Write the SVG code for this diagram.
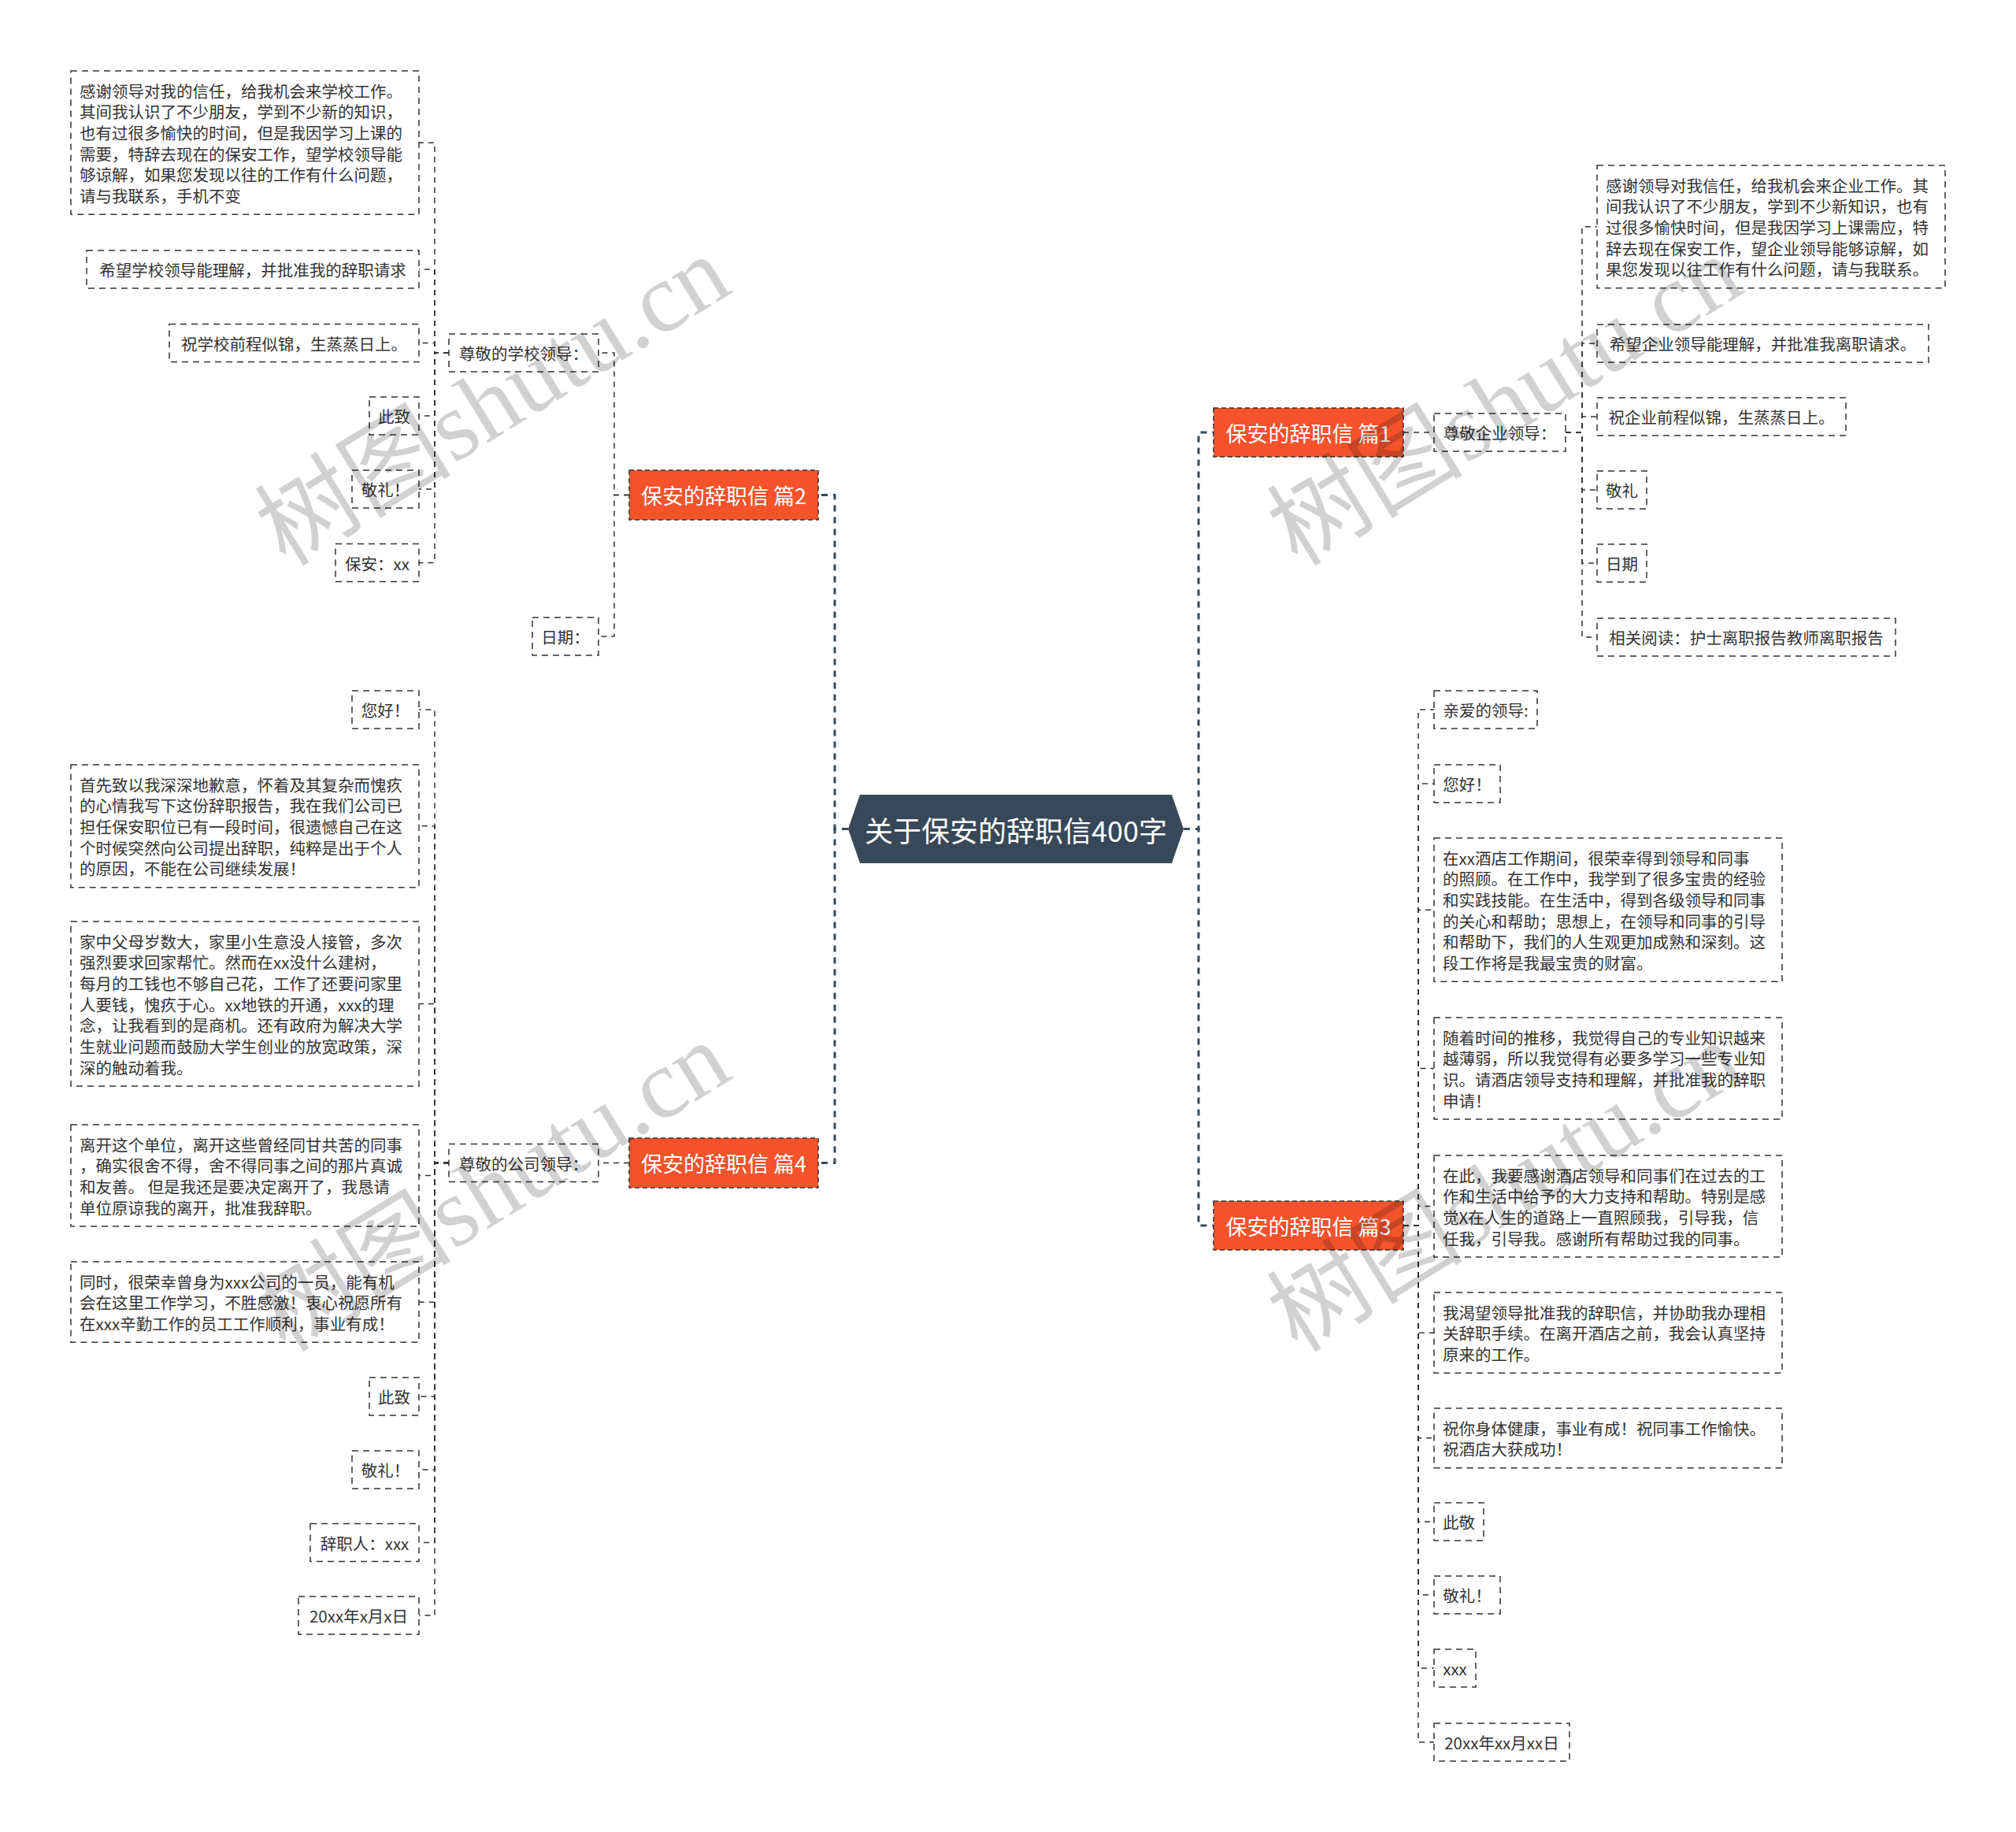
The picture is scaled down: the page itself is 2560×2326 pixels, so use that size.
<svg xmlns="http://www.w3.org/2000/svg" width="2560" height="2326" viewBox="0 0 2560 2326">
<style>
.bg{fill:#ffffff}
.box{fill:#ffffff;stroke:#333333;stroke-width:1.5;stroke-dasharray:8 6}
.t{font-family:"Noto Sans CJK SC","Microsoft YaHei",sans-serif;font-size:20.5px;fill:#333333}
.c{text-anchor:middle;dominant-baseline:central}
.l{dominant-baseline:central}
.branch{fill:#f4532c;stroke:#333333;stroke-width:1.5;stroke-dasharray:6 4}
.bt{font-family:"Noto Sans CJK SC","Microsoft YaHei",sans-serif;font-size:27px;fill:#ffffff;text-anchor:middle;dominant-baseline:central}
.root{fill:#374859}
.rt{font-family:"Noto Sans CJK SC","Microsoft YaHei",sans-serif;font-size:36px;fill:#ffffff;text-anchor:middle;dominant-baseline:central}
.link{fill:none;stroke:#333333;stroke-width:1.5;stroke-dasharray:7 6}
.trunk{fill:none;stroke:#37495a;stroke-width:3;stroke-dasharray:8 7}
.wm{font-family:"Liberation Serif","Noto Sans CJK SC",serif;font-size:125px;fill:#000000;fill-opacity:0.18;text-anchor:middle}
</style>
<rect class="bg" x="0" y="0" width="2560" height="2326"/>

<g id="connectors">
<path class="trunk" d="M1077,1052.5 H1060 V628.5 H1039"/>
<path class="trunk" d="M1077,1052.5 H1060 V1476.5 H1039"/>
<path class="trunk" d="M1503,1052.5 H1522 V549 H1541"/>
<path class="trunk" d="M1503,1052.5 H1522 V1556 H1541"/>

<path class="link" d="M799,628.5 H780 V448 H760"/>
<path class="link" d="M799,628.5 H780 V808 H760"/>

<path class="link" d="M570,448 H552 V181.2 H532"/>
<path class="link" d="M570,448 H552 V342 H532"/>
<path class="link" d="M570,448 H552 V435.5 H532"/>
<path class="link" d="M570,448 H552 V528 H532"/>
<path class="link" d="M570,448 H552 V621 H532"/>
<path class="link" d="M570,448 H552 V714.5 H532"/>

<path class="link" d="M799,1476.5 H760"/>
<path class="link" d="M570,1476.5 H552 V901 H532"/>
<path class="link" d="M570,1476.5 H552 V1048.8 H532"/>
<path class="link" d="M570,1476.5 H552 V1274.5 H532"/>
<path class="link" d="M570,1476.5 H552 V1492.5 H532"/>
<path class="link" d="M570,1476.5 H552 V1653.2 H532"/>
<path class="link" d="M570,1476.5 H552 V1773 H532"/>
<path class="link" d="M570,1476.5 H552 V1866 H532"/>
<path class="link" d="M570,1476.5 H552 V1958.5 H532"/>
<path class="link" d="M570,1476.5 H552 V2051 H532"/>

<path class="link" d="M1782,549 H1821"/>
<path class="link" d="M1988,549 H2009 V287.8 H2028"/>
<path class="link" d="M1988,549 H2009 V436 H2028"/>
<path class="link" d="M1988,549 H2009 V529 H2028"/>
<path class="link" d="M1988,549 H2009 V622 H2028"/>
<path class="link" d="M1988,549 H2009 V715 H2028"/>
<path class="link" d="M1988,549 H2009 V809 H2028"/>

<path class="link" d="M1782,1556 H1801 V901 H1821"/>
<path class="link" d="M1782,1556 H1801 V995 H1821"/>
<path class="link" d="M1782,1556 H1801 V1155.2 H1821"/>
<path class="link" d="M1782,1556 H1801 V1356.5 H1821"/>
<path class="link" d="M1782,1556 H1801 V1531.5 H1821"/>
<path class="link" d="M1782,1556 H1801 V1692.2 H1821"/>
<path class="link" d="M1782,1556 H1801 V1825.8 H1821"/>
<path class="link" d="M1782,1556 H1801 V1932 H1821"/>
<path class="link" d="M1782,1556 H1801 V2025 H1821"/>
<path class="link" d="M1782,1556 H1801 V2118 H1821"/>
<path class="link" d="M1782,1556 H1801 V2212 H1821"/>
</g>

<g id="root">
<polygon class="root" points="1077,1052.5 1092,1009 1488,1009 1503,1052.5 1488,1096 1092,1096"/>
<text class="rt" x="1290" y="1052.5">关于保安的辞职信400字</text>
</g>

<g id="b2">
<rect class="branch" x="799" y="597" width="240" height="63"/>
<text class="bt" x="919" y="628.5">保安的辞职信 篇2</text>
</g>
<g id="b4">
<rect class="branch" x="799" y="1445" width="240" height="63"/>
<text class="bt" x="919" y="1476.5">保安的辞职信 篇4</text>
</g>
<g id="b1">
<rect class="branch" x="1541" y="518" width="241" height="62"/>
<text class="bt" x="1661.5" y="549">保安的辞职信 篇1</text>
</g>
<g id="b3">
<rect class="branch" x="1541" y="1525" width="241" height="62"/>
<text class="bt" x="1661.5" y="1556">保安的辞职信 篇3</text>
</g>

<g id="n2-dear">
<rect class="box" x="570" y="424" width="190" height="48"/>
<text class="t c" x="665" y="448">尊敬的学校领导：</text>
</g>
<g id="n2-date">
<rect class="box" x="676" y="784" width="84" height="48"/>
<text class="t c" x="718" y="808">日期：</text>
</g>
<g id="n2-a">
<rect class="box" x="90" y="90" width="442" height="182.3"/>
<text class="t l" x="101"><tspan x="101" y="114.5">感谢领导对我的信任，给我机会来学校工作。</tspan><tspan x="101" y="141.2">其间我认识了不少朋友，学到不少新的知识，</tspan><tspan x="101" y="167.8">也有过很多愉快的时间，但是我因学习上课的</tspan><tspan x="101" y="194.5">需要，特辞去现在的保安工作，望学校领导能</tspan><tspan x="101" y="221.2">够谅解，如果您发现以往的工作有什么问题，</tspan><tspan x="101" y="247.8">请与我联系，手机不变</tspan></text>
</g>
<g id="n2-b">
<rect class="box" x="110" y="318" width="422" height="48"/>
<text class="t c" x="321" y="342">希望学校领导能理解，并批准我的辞职请求</text>
</g>
<g id="n2-c">
<rect class="box" x="215" y="411.5" width="317" height="48"/>
<text class="t c" x="373.5" y="435.5">祝学校前程似锦，生蒸蒸日上。</text>
</g>
<g id="n2-d">
<rect class="box" x="469" y="504" width="63" height="48"/>
<text class="t c" x="500.5" y="528">此致</text>
</g>
<g id="n2-e">
<rect class="box" x="447" y="597" width="85" height="48"/>
<text class="t c" x="489.5" y="621">敬礼！</text>
</g>
<g id="n2-f">
<rect class="box" x="426" y="690.5" width="106" height="48"/>
<text class="t c" x="479" y="714.5">保安：xx</text>
</g>

<g id="n4-dear">
<rect class="box" x="570" y="1452.5" width="190" height="48"/>
<text class="t c" x="665" y="1476.5">尊敬的公司领导：</text>
</g>
<g id="n4-a">
<rect class="box" x="447" y="877" width="85" height="48"/>
<text class="t c" x="489.5" y="901">您好！</text>
</g>
<g id="n4-b">
<rect class="box" x="90" y="971" width="442" height="155.7"/>
<text class="t l" x="101"><tspan x="101" y="995.5">首先致以我深深地歉意，怀着及其复杂而愧疚</tspan><tspan x="101" y="1022.2">的心情我写下这份辞职报告，我在我们公司已</tspan><tspan x="101" y="1048.8">担任保安职位已有一段时间，很遗憾自己在这</tspan><tspan x="101" y="1075.5">个时候突然向公司提出辞职，纯粹是出于个人</tspan><tspan x="101" y="1102.2">的原因，不能在公司继续发展！</tspan></text>
</g>
<g id="n4-c">
<rect class="box" x="90" y="1170" width="442" height="209"/>
<text class="t l" x="101"><tspan x="101" y="1194.5">家中父母岁数大，家里小生意没人接管，多次</tspan><tspan x="101" y="1221.2">强烈要求回家帮忙。然而在xx没什么建树，</tspan><tspan x="101" y="1247.8">每月的工钱也不够自己花，工作了还要问家里</tspan><tspan x="101" y="1274.5">人要钱，愧疚于心。xx地铁的开通，xxx的理</tspan><tspan x="101" y="1301.2">念，让我看到的是商机。还有政府为解决大学</tspan><tspan x="101" y="1327.8">生就业问题而鼓励大学生创业的放宽政策，深</tspan><tspan x="101" y="1354.5">深的触动着我。</tspan></text>
</g>
<g id="n4-d">
<rect class="box" x="90" y="1428" width="442" height="129"/>
<text class="t l" x="101"><tspan x="101" y="1452.5">离开这个单位，离开这些曾经同甘共苦的同事</tspan><tspan x="101" y="1479.2">，确实很舍不得，舍不得同事之间的那片真诚</tspan><tspan x="101" y="1505.8">和友善。 但是我还是要决定离开了，我恳请</tspan><tspan x="101" y="1532.5">单位原谅我的离开，批准我辞职。</tspan></text>
</g>
<g id="n4-e">
<rect class="box" x="90" y="1602" width="442" height="102.3"/>
<text class="t l" x="101"><tspan x="101" y="1626.5">同时，很荣幸曾身为xxx公司的一员，能有机</tspan><tspan x="101" y="1653.2">会在这里工作学习，不胜感激！衷心祝愿所有</tspan><tspan x="101" y="1679.8">在xxx辛勤工作的员工工作顺利，事业有成！</tspan></text>
</g>
<g id="n4-f">
<rect class="box" x="469" y="1749" width="63" height="48"/>
<text class="t c" x="500.5" y="1773">此致</text>
</g>
<g id="n4-g">
<rect class="box" x="447" y="1842" width="85" height="48"/>
<text class="t c" x="489.5" y="1866">敬礼！</text>
</g>
<g id="n4-h">
<rect class="box" x="394" y="1934.5" width="138" height="48"/>
<text class="t c" x="463" y="1958.5">辞职人：xxx</text>
</g>
<g id="n4-i">
<rect class="box" x="379" y="2027" width="153" height="48"/>
<text class="t c" x="455.5" y="2051">20xx年x月x日</text>
</g>

<g id="n1-dear">
<rect class="box" x="1821" y="525" width="167" height="48"/>
<text class="t c" x="1904.5" y="549">尊敬企业领导：</text>
</g>
<g id="n1-a">
<rect class="box" x="2028" y="210" width="442" height="155.7"/>
<text class="t l" x="2039"><tspan x="2039" y="234.5">感谢领导对我信任，给我机会来企业工作。其</tspan><tspan x="2039" y="261.2">间我认识了不少朋友，学到不少新知识，也有</tspan><tspan x="2039" y="287.8">过很多愉快时间，但是我因学习上课需应，特</tspan><tspan x="2039" y="314.5">辞去现在保安工作，望企业领导能够谅解，如</tspan><tspan x="2039" y="341.2">果您发现以往工作有什么问题，请与我联系。</tspan></text>
</g>
<g id="n1-b">
<rect class="box" x="2028" y="412" width="421" height="48"/>
<text class="t c" x="2238.5" y="436">希望企业领导能理解，并批准我离职请求。</text>
</g>
<g id="n1-c">
<rect class="box" x="2028" y="505" width="316" height="48"/>
<text class="t c" x="2186" y="529">祝企业前程似锦，生蒸蒸日上。</text>
</g>
<g id="n1-d">
<rect class="box" x="2028" y="598" width="63" height="48"/>
<text class="t c" x="2059.5" y="622">敬礼</text>
</g>
<g id="n1-e">
<rect class="box" x="2028" y="691" width="63" height="48"/>
<text class="t c" x="2059.5" y="715">日期</text>
</g>
<g id="n1-f">
<rect class="box" x="2028" y="785" width="379" height="48"/>
<text class="t c" x="2217.5" y="809">相关阅读：护士离职报告教师离职报告</text>
</g>

<g id="n3-a">
<rect class="box" x="1821" y="877" width="131" height="48"/>
<text class="t c" x="1886.5" y="901">亲爱的领导:</text>
</g>
<g id="n3-b">
<rect class="box" x="1821" y="971" width="84" height="48"/>
<text class="t c" x="1863" y="995">您好！</text>
</g>
<g id="n3-c">
<rect class="box" x="1821" y="1064" width="442" height="182.3"/>
<text class="t l" x="1832"><tspan x="1832" y="1088.5">在xx酒店工作期间，很荣幸得到领导和同事</tspan><tspan x="1832" y="1115.2">的照顾。在工作中，我学到了很多宝贵的经验</tspan><tspan x="1832" y="1141.8">和实践技能。在生活中，得到各级领导和同事</tspan><tspan x="1832" y="1168.5">的关心和帮助；思想上，在领导和同事的引导</tspan><tspan x="1832" y="1195.2">和帮助下，我们的人生观更加成熟和深刻。这</tspan><tspan x="1832" y="1221.8">段工作将是我最宝贵的财富。</tspan></text>
</g>
<g id="n3-d">
<rect class="box" x="1821" y="1292" width="442" height="129"/>
<text class="t l" x="1832"><tspan x="1832" y="1316.5">随着时间的推移，我觉得自己的专业知识越来</tspan><tspan x="1832" y="1343.2">越薄弱，所以我觉得有必要多学习一些专业知</tspan><tspan x="1832" y="1369.8">识。请酒店领导支持和理解，并批准我的辞职</tspan><tspan x="1832" y="1396.5">申请！</tspan></text>
</g>
<g id="n3-e">
<rect class="box" x="1821" y="1467" width="442" height="129"/>
<text class="t l" x="1832"><tspan x="1832" y="1491.5">在此，我要感谢酒店领导和同事们在过去的工</tspan><tspan x="1832" y="1518.2">作和生活中给予的大力支持和帮助。特别是感</tspan><tspan x="1832" y="1544.8">觉X在人生的道路上一直照顾我，引导我，信</tspan><tspan x="1832" y="1571.5">任我，引导我。感谢所有帮助过我的同事。</tspan></text>
</g>
<g id="n3-f">
<rect class="box" x="1821" y="1641" width="442" height="102.3"/>
<text class="t l" x="1832"><tspan x="1832" y="1665.5">我渴望领导批准我的辞职信，并协助我办理相</tspan><tspan x="1832" y="1692.2">关辞职手续。在离开酒店之前，我会认真坚持</tspan><tspan x="1832" y="1718.8">原来的工作。</tspan></text>
</g>
<g id="n3-g">
<rect class="box" x="1821" y="1788" width="442" height="75.7"/>
<text class="t l" x="1832"><tspan x="1832" y="1812.5">祝你身体健康，事业有成！祝同事工作愉快。</tspan><tspan x="1832" y="1839.2">祝酒店大获成功！</tspan></text>
</g>
<g id="n3-h">
<rect class="box" x="1821" y="1908" width="63" height="48"/>
<text class="t c" x="1852.5" y="1932">此敬</text>
</g>
<g id="n3-i">
<rect class="box" x="1821" y="2001" width="84" height="48"/>
<text class="t c" x="1863" y="2025">敬礼！</text>
</g>
<g id="n3-j">
<rect class="box" x="1821" y="2094" width="53" height="48"/>
<text class="t c" x="1847.5" y="2118">xxx</text>
</g>
<g id="n3-k">
<rect class="box" x="1821" y="2188" width="172" height="48"/>
<text class="t c" x="1907" y="2212">20xx年xx月xx日</text>
</g>

<g id="watermark">
<text class="wm" transform="translate(648,545) rotate(-31.6)">树图shutu.cn</text>
<text class="wm" transform="translate(1933,545) rotate(-31.6)">树图shutu.cn</text>
<text class="wm" transform="translate(648,1543) rotate(-31.6)">树图shutu.cn</text>
<text class="wm" transform="translate(1933,1543) rotate(-31.6)">树图shutu.cn</text>
</g>
</svg>
